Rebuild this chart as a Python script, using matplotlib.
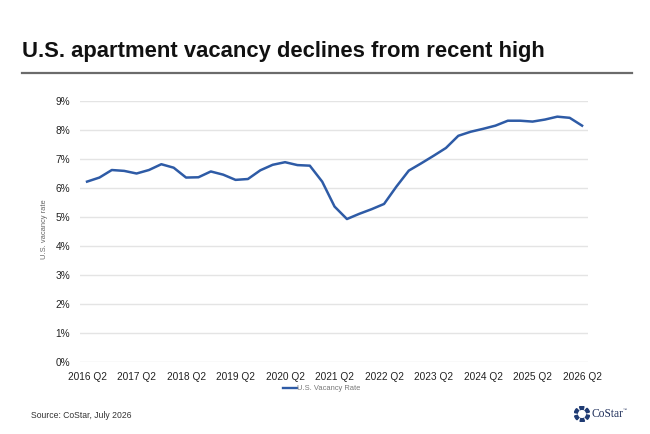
import numpy as np
import matplotlib
matplotlib.use("Agg")
import matplotlib.pyplot as plt
from matplotlib.patches import Wedge

plt.rcParams['font.family'] = ['Liberation Sans', 'DejaVu Sans']

# quarterly vacancy, 2016 Q2 .. 2026 Q2
vacancy = [6.22, 6.36, 6.62, 6.59, 6.50, 6.62, 6.82, 6.70, 6.36, 6.37,
           6.57, 6.46, 6.28, 6.31, 6.61, 6.80, 6.89, 6.79, 6.77, 6.22,
           5.36, 4.93, 5.11, 5.27, 5.45, 6.05, 6.60, 6.85, 7.11, 7.38,
           7.80, 7.94, 8.04, 8.15, 8.32, 8.32, 8.29, 8.36, 8.46, 8.42,
           8.15]
years = list(range(2016, 2027))
tick_labels = [str(y) + " Q2" for y in years]
ytick_vals = list(range(0, 10))

W, H = 650, 434
fig = plt.figure(figsize=(6.5, 4.34), dpi=100)

# titel + lijn
fig.text(22 / W, 1 - 52 / H, "U.S. apartment vacancy declines from recent high",
         fontsize=15.8, fontweight='bold', color='#111111', va='center', ha='left')
fig.add_artist(plt.Line2D([22 / W, 632 / W], [1 - 73 / H, 1 - 73 / H],
                          color='#6b6b6b', lw=1.6))

ax = fig.add_axes([80 / W, 1 - 362 / H, (588 - 80) / W, (362 - 101) / H])
x = np.arange(len(vacancy))
ax.plot(x, vacancy, color='#2e5ba6', lw=1.8, solid_joinstyle='round')

ax.set_xlim(-0.57, len(vacancy) - 1 + 0.48)
ax.set_ylim(0, 9)
ax.set_yticks(ytick_vals)
ax.set_yticklabels([str(v) + "%" for v in ytick_vals])
ax.set_xticks(np.arange(0, len(vacancy), 4))
ax.set_xticklabels(tick_labels)
ax.grid(axis='y', color='#e4e4e4', lw=1)
ax.set_axisbelow(True)
for s in ax.spines.values():
    s.set_visible(False)
ax.tick_params(length=0, labelsize=7.3, colors='#222222')
ax.tick_params(axis='y', pad=7)
ax.tick_params(axis='x', pad=7)
fig.text(45 / W, 1 - 229 / H, "U.S. vacancy rate", fontsize=5.4, color='#666666',
         rotation=90, va='center', ha='center')

# legenda
fig.add_artist(plt.Line2D([283 / W, 297 / W], [1 - 388 / H, 1 - 388 / H],
                          color='#2e5ba6', lw=1.7))
fig.text(297 / W, 1 - 388 / H, "U.S. Vacancy Rate", fontsize=5.4,
         color='#777777', va='center', ha='left')

fig.text(31 / W, 1 - 416 / H, "Source: CoStar, July 2026", fontsize=6.2,
         color='#333333', va='center', ha='left')

# CoStar logo
lax = fig.add_axes([574 / W, 1 - 422 / H, 16 / W, 16 / H])
for k in range(6):
    a0 = k * 60 + 15
    lax.add_patch(Wedge((0, 0), 1.0, a0, a0 + 34, width=0.38, color='#1f3b73'))
lax.set_xlim(-1.05, 1.05)
lax.set_ylim(-1.05, 1.05)
lax.set_aspect('equal')
lax.axis('off')
fig.text(592 / W, 1 - 414 / H, "CoStar", fontsize=8.3, family='Liberation Serif',
         color='#1f2f5a', va='center', ha='left')
fig.text(623 / W, 1 - 410 / H, "\u2122", fontsize=3, color='#1f2f5a',
         va='center', ha='left')

fig.savefig("out.png", dpi=100)
